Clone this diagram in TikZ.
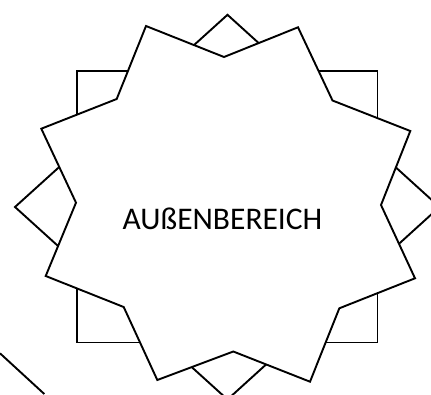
\documentclass[tikz,border=0pt]{standalone}
\usepackage{fontspec}
\setmainfont{Carlito}
\begin{document}
\begin{tikzpicture}[x=1pt,y=-1pt,line join=miter,
    edge/.style={line width=1.9pt},
    badge/.style={edge,fill=white}]
  \useasboundingbox (0,0) rectangle (431,394);
  \draw[edge] (0,353.3) -- (44.3,394);
  \draw[edge] (77,71.3) rectangle (377.5,342.5);
  \draw[edge] (227.5,14.8) -- (439.5,207) -- (227.5,399.5) -- (15,207) -- cycle;
  \draw[badge] (146,26) -- (224,57) -- (298,27.3) -- (332.5,100.5)
    -- (410.3,131) -- (381,205) -- (415,278.3) -- (339.3,308.3)
    -- (310,381.7) -- (233.3,351.5) -- (157.3,380) -- (123.7,307)
    -- (45.7,276) -- (76,202.7) -- (41.3,128.7) -- (116.7,99) -- cycle;
  \node[inner sep=0pt,font=\fontsize{31.5}{36}\selectfont] (label) at (222.5,218.5) {AUßENBEREICH};
\end{tikzpicture}
\end{document}
